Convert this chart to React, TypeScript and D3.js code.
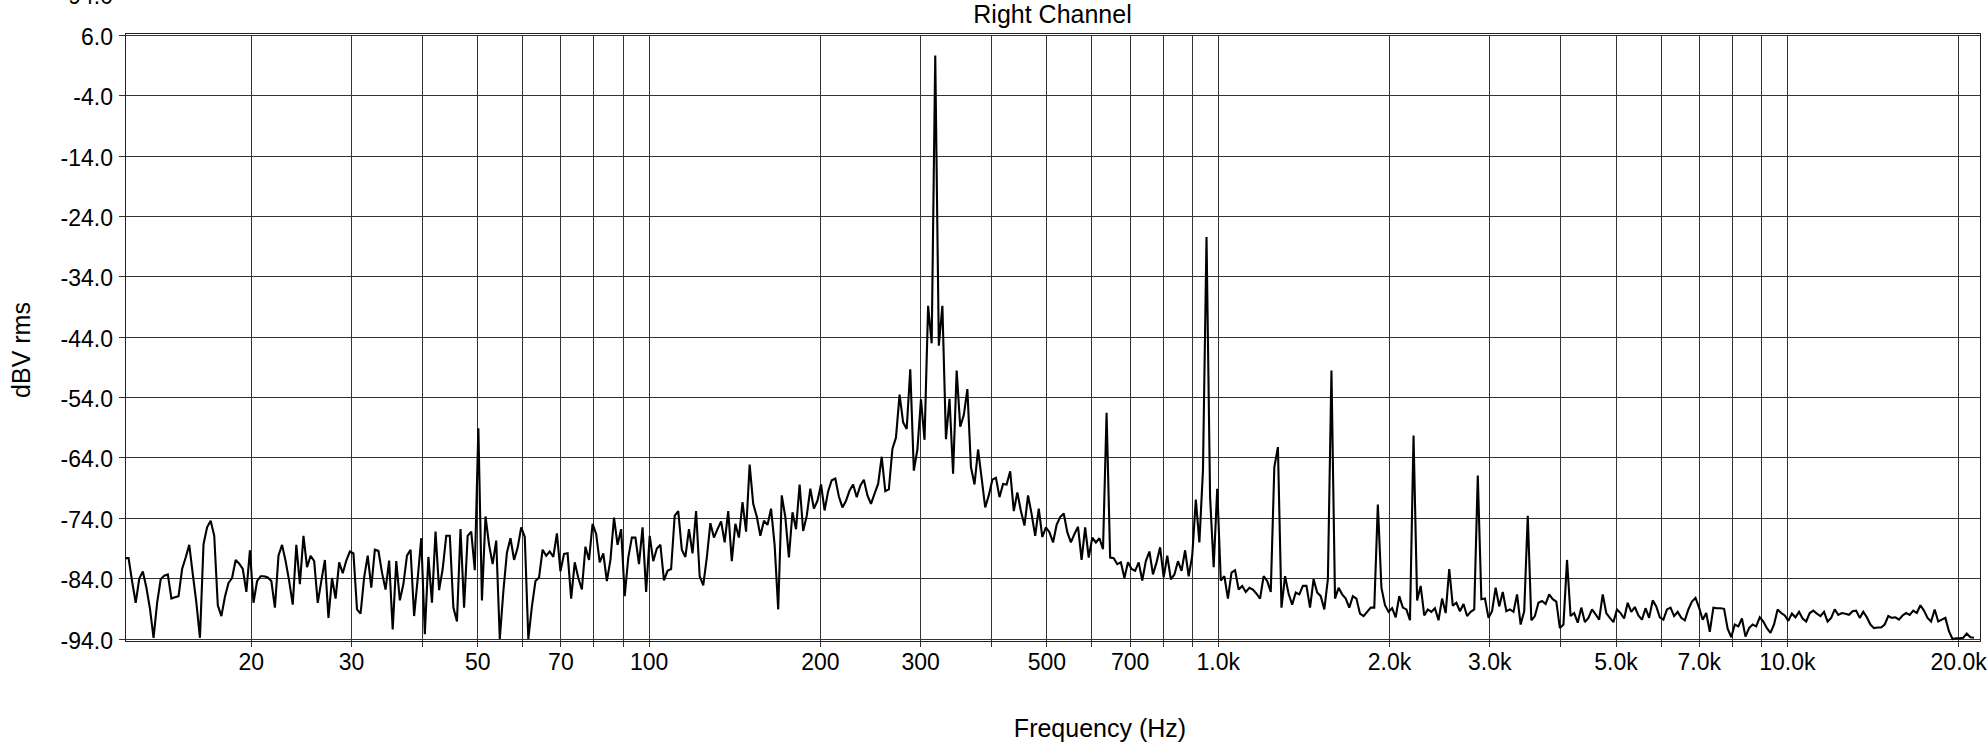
import React from 'react';
import * as d3 from 'd3';

// ---- text ----
const TITLE = 'Right Channel';
const X_LABEL = 'Frequency (Hz)';
const Y_LABEL = 'dBV rms';
const CLIPPED_LABEL = '-94.0'; // label of the chart above, cut by the page edge

// ---- axes ----
const X_DOMAIN_HZ = [12, 21800];
const Y_DOMAIN_DB = [-94, 6];
const Y_TICKS = [6, -4, -14, -24, -34, -44, -54, -64, -74, -84, -94];
const X_GRID_HZ = [
  20, 30, 40, 50, 60, 70, 80, 90, 100, 200, 300, 400, 500, 600, 700, 800, 900,
  1000, 2000, 3000, 4000, 5000, 6000, 7000, 8000, 9000, 10000, 20000,
];
const X_TICK_HZ = [20, 30, 50, 70, 100, 200, 300, 500, 700, 1000, 2000, 3000, 5000, 7000, 10000, 20000];
const X_TICK_TEXT = ['20', '30', '50', '70', '100', '200', '300', '500', '700', '1.0k', '2.0k', '3.0k', '5.0k', '7.0k', '10.0k', '20.0k'];

// ---- spectrum: analyzer bins of 1/48 octave starting at 12 Hz ----
const BIN_START_HZ = 12;
const BINS_PER_OCTAVE = 48;

// dBV, bins 0..146 (12 Hz .. 100 Hz)
const DBV_12_TO_100 = [
  -80.6, -80.6, -84.5, -88.0, -84.0, -82.8, -85.5, -89.0, -93.8, -88.0,
  -84.1, -83.5, -83.3, -87.3, -87.1, -86.9, -82.4, -80.5, -78.4, -83.3,
  -88.0, -93.8, -78.3, -75.5, -74.4, -76.9, -88.4, -90.2, -87.0, -84.7,
  -83.9, -80.9, -81.5, -82.4, -86.2, -79.3, -88.0, -84.4, -83.6, -83.6,
  -83.8, -84.4, -88.8, -80.2, -78.4, -81.1, -84.4, -88.3, -78.4, -84.9,
  -76.9, -82.1, -80.2, -81.1, -88.0, -84.4, -80.9, -90.5, -83.9, -87.3,
  -81.3, -83.1, -81.0, -79.5, -79.8, -89.1, -89.8, -83.8, -80.2, -85.5,
  -79.2, -79.4, -83.0, -85.8, -81.0, -92.4, -81.1, -87.6, -84.9, -80.2,
  -79.2, -90.2, -84.0, -77.3, -93.2, -80.4, -88.0, -76.2, -85.9, -82.4,
  -76.9, -76.9, -88.8, -91.1, -75.8, -88.8, -76.9, -76.2, -82.6, -59.1,
  -87.6, -73.7, -78.4, -81.6, -77.7, -94.0, -86.1, -79.7, -77.3, -80.9,
  -78.9, -75.5, -77.1, -94.0, -88.6, -84.4, -83.8, -79.2, -80.2, -79.5,
  -80.4, -76.5, -82.8, -79.9, -79.8, -87.3, -81.3, -83.9, -85.8, -78.7,
  -80.9, -74.9, -76.6, -81.3, -79.8, -84.4, -80.9, -73.9, -78.4, -75.8,
  -86.9, -80.5, -77.2, -77.2, -81.6, -75.5, -86.2,
];

// dBV, bins 147..306 (100 Hz .. 1 kHz)
const DBV_100_TO_1K = [
  -76.9, -81.1, -79.0,
  -78.4, -84.3, -82.7, -82.4, -73.6, -72.8, -79.2, -80.4, -75.8, -79.8,
  -72.8, -83.6, -85.1, -80.5, -74.8, -77.2, -75.8, -74.5, -78.0, -72.8,
  -81.1, -74.9, -77.2, -71.3, -76.2, -65.1, -71.6, -73.7, -76.9, -74.4,
  -75.1, -72.4, -78.4, -89.1, -70.2, -73.8, -80.5, -73.0, -75.8, -68.4,
  -76.1, -73.6, -69.1, -72.4, -71.1, -68.4, -72.7, -69.5, -67.7, -67.4,
  -70.4, -72.2, -71.1, -69.4, -68.4, -70.5, -68.6, -67.6, -70.2, -71.6,
  -69.9, -68.3, -63.8, -69.5, -69.2, -62.5, -60.6, -53.5, -58.1, -59.2,
  -49.3, -66.1, -62.6, -54.3, -61.0, -38.8, -45.0, 2.7, -45.4, -38.8,
  -60.9, -54.2, -66.6, -49.5, -58.8, -56.9, -52.6, -65.5, -68.4, -62.6,
  -67.4, -72.2, -70.2, -67.6, -67.3, -70.5, -68.3, -68.4, -66.2, -72.8,
  -69.7, -72.8, -75.2, -70.2, -73.3, -76.9, -72.4, -77.1, -75.5, -76.3,
  -78.0, -75.1, -73.8, -73.2, -76.3, -78.0, -76.6, -75.4, -80.9, -75.5,
  -80.5, -77.2, -78.0, -77.3, -79.1, -56.5, -80.5, -80.6, -81.6, -81.3,
  -83.9, -81.3, -82.4, -82.7, -81.3, -84.3, -81.1, -79.5, -83.3, -81.3,
  -78.8, -83.8, -80.2, -84.1, -83.3, -81.1, -82.7, -79.3, -83.6, -80.2,
  -70.9, -78.0, -66.1, -27.4, -70.5, -82.1, -69.1,
];

// dBV, bins 307..465 (1 kHz .. 10 kHz)
const DBV_1K_TO_10K = [
  -84.3, -83.6, -87.3,
  -83.0, -82.6, -85.8, -85.2, -86.2, -85.5, -85.8, -86.5, -87.3, -83.6,
  -84.4, -86.2, -65.5, -62.2, -88.8, -83.6, -86.5, -88.3, -86.3, -86.6,
  -85.2, -85.2, -88.8, -84.1, -86.3, -86.9, -89.1, -84.1, -49.5, -87.3,
  -85.5, -86.6, -87.3, -88.8, -86.9, -87.3, -89.8, -90.2, -89.5, -88.8,
  -88.8, -71.7, -85.5, -88.4, -89.5, -88.9, -90.4, -86.9, -88.8, -89.1,
  -90.9, -60.3, -87.6, -85.2, -90.1, -89.1, -89.5, -88.9, -90.9, -87.3,
  -89.7, -82.4, -88.5, -88.0, -89.4, -88.2, -90.2, -89.5, -89.1, -66.9,
  -87.4, -87.3, -90.5, -89.4, -85.5, -88.6, -86.2, -89.4, -89.1, -89.5,
  -86.6, -91.6, -89.4, -73.6, -90.9, -90.2, -88.0, -87.7, -88.2, -86.6,
  -87.4, -87.8, -92.2, -91.6, -80.9, -90.2, -89.7, -91.3, -88.8, -91.2,
  -90.5, -89.1, -89.9, -90.8, -86.6, -89.7, -90.5, -91.2, -89.1, -89.7,
  -90.6, -88.0, -89.5, -88.7, -90.1, -90.8, -88.9, -90.5, -87.6, -88.6,
  -90.4, -90.8, -89.1, -88.8, -90.2, -89.5, -90.5, -90.9, -89.1, -87.8,
  -87.2, -88.8, -90.8, -89.7, -92.8, -88.8, -88.9, -88.9, -89.0, -92.3,
  -93.7, -91.6, -91.9, -90.6, -93.6, -92.2, -91.6, -91.9, -90.4, -91.1,
  -92.2, -93.0, -91.6, -89.1, -89.7, -90.1,
];

// dBV, bins 466..518 (10 kHz .. 21.3 kHz)
const DBV_10K_UP = [
  -91.0, -89.8, -90.4, -89.5,
  -90.6, -91.1, -89.7, -89.3, -89.8, -90.2, -89.5, -91.1, -90.5, -89.1,
  -90.0, -89.7, -89.8, -90.0, -89.4, -89.3, -90.5, -89.5, -90.4, -91.6,
  -92.2, -92.1, -92.1, -91.6, -90.2, -90.5, -90.4, -90.8, -90.1, -89.7,
  -90.0, -89.3, -89.7, -88.4, -89.3, -90.5, -91.1, -89.1, -91.1, -90.8,
  -90.5, -92.7, -94.0, -93.9, -93.9, -93.8, -93.1, -93.7, -93.8,
];

// ---- layout ----
const W = 1988;
const H = 748;
const PLOT_L = 125;
const PLOT_R = 1980;
const PLOT_T = 35.5;
const PLOT_B = 639;
const FONT = "'Liberation Sans', Arial, Helvetica, sans-serif";
const FS_TICK = 23;
const FS_TITLE = 25;
const GRID = '#333';

export default function App() {
  const x = d3.scaleLog().domain(X_DOMAIN_HZ).range([PLOT_L, PLOT_R]);
  const y = d3.scaleLinear().domain(Y_DOMAIN_DB).range([PLOT_B, PLOT_T]);

  const dbv = [...DBV_12_TO_100, ...DBV_100_TO_1K, ...DBV_1K_TO_10K, ...DBV_10K_UP];
  const points: [number, number][] = dbv.map((v, i) => [
    BIN_START_HZ * Math.pow(2, i / BINS_PER_OCTAVE),
    v,
  ]);
  const path = d3
    .line<[number, number]>()
    .x((d) => x(d[0]))
    .y((d) => y(d[1]))(points) as string;

  const fmtY = (v: number) => v.toFixed(1);

  return (
    <svg
      width={W}
      height={H}
      viewBox={`0 0 ${W} ${H}`}
      style={{ position: 'absolute', left: 0, top: 0, background: '#fff' }}
      fontFamily={FONT}
      fontSize={FS_TICK}
    >
      <rect x={0} y={0} width={W} height={H} fill="#fff" />

      {/* label of the neighbouring chart, cut by the top edge as in the reference */}
      <text x={113} y={4} textAnchor="end" fill="#000">
        {CLIPPED_LABEL}
      </text>

      {/* title */}
      <text x={(PLOT_L + PLOT_R) / 2} y={23} textAnchor="middle" fill="#000" fontSize={FS_TITLE}>
        {TITLE}
      </text>

      <g shapeRendering="crispEdges">
        {/* horizontal grid + y ticks */}
        {Y_TICKS.map((v) => (
          <g key={`y${v}`}>
            <line x1={PLOT_L} x2={PLOT_R} y1={y(v)} y2={y(v)} stroke={GRID} strokeWidth={1} />
            <line x1={119} x2={PLOT_L} y1={y(v)} y2={y(v)} stroke={GRID} strokeWidth={1} />
          </g>
        ))}
        {/* vertical grid + x ticks */}
        {X_GRID_HZ.map((f) => (
          <line
            key={`x${f}`}
            x1={x(f)}
            x2={x(f)}
            y1={PLOT_T}
            y2={PLOT_B + 8}
            stroke={GRID}
            strokeWidth={1}
          />
        ))}
        {/* frame */}
        <rect
          x={PLOT_L}
          y={PLOT_T - 2}
          width={PLOT_R - PLOT_L}
          height={PLOT_B - PLOT_T + 4}
          fill="none"
          stroke="#222"
          strokeWidth={1}
        />
      </g>

      {/* y tick labels */}
      {Y_TICKS.map((v) => (
        <text key={`yl${v}`} x={113} y={y(v) + 1.5} textAnchor="end" dominantBaseline="central" fill="#000">
          {fmtY(v)}
        </text>
      ))}

      {/* x tick labels */}
      {X_TICK_HZ.map((f, i) => (
        <text key={`xl${f}`} x={x(f)} y={670} textAnchor="middle" fill="#000">
          {X_TICK_TEXT[i]}
        </text>
      ))}

      {/* axis titles */}
      <text x={1100} y={737} textAnchor="middle" fill="#000" fontSize={FS_TITLE}>
        {X_LABEL}
      </text>
      <text transform="translate(30, 350) rotate(-90)" textAnchor="middle" fill="#000" fontSize={FS_TITLE}>
        {Y_LABEL}
      </text>

      {/* spectrum trace */}
      <path d={path} fill="none" stroke="#000" strokeWidth={2.1} strokeLinejoin="miter" strokeMiterlimit={2} />
    </svg>
  );
}
